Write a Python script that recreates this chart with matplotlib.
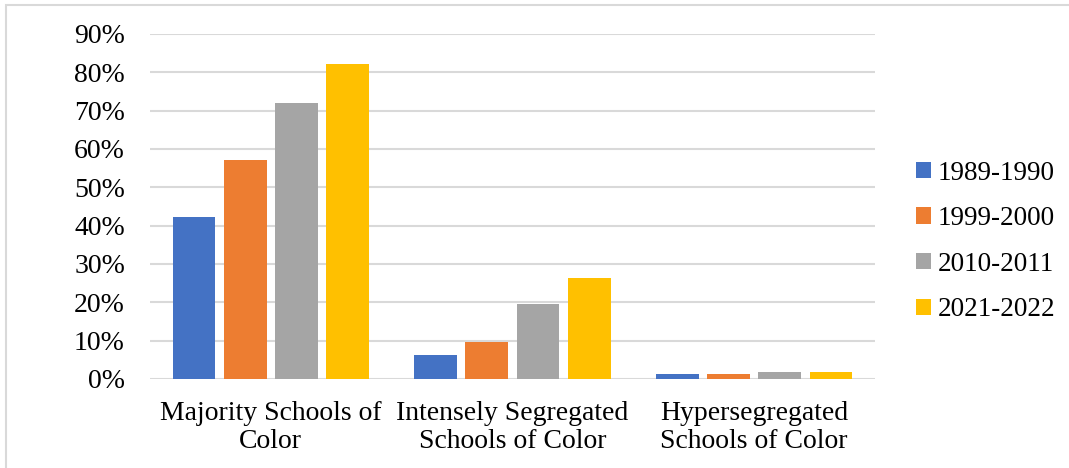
import matplotlib.pyplot as plt
import numpy as np
from matplotlib.patches import Rectangle

categories = ['Majority Schools of\nColor', 'Intensely Segregated\nSchools of Color', 'Hypersegregated\nSchools of Color']
years = ['1989-1990', '1999-2000', '2010-2011', '2021-2022']
v1989 = [0.423, 0.062, 0.014]
v1999 = [0.570, 0.097, 0.014]
v2010 = [0.720, 0.196, 0.0175]
v2021 = [0.821, 0.263, 0.0175]
values = [v1989, v1999, v2010, v2021]
colors = ['#4472C4', '#ED7D31', '#A5A5A5', '#FFC000']

plt.rcParams['font.family'] = ['Liberation Serif', 'DejaVu Serif']

fig = plt.figure(figsize=(10.69, 4.68), dpi=100)
ax = fig.add_axes([0.1403, 0.1902, 0.6782, 0.7372])

x = np.arange(len(categories))
step = 0.212
width = 0.177
for i, (yr, vals) in enumerate(zip(years, values)):
    ax.bar(x + (i - 1.5) * step, vals, width, color=colors[i], label=yr, zorder=3)

ax.set_xlim(-0.5, 2.5)
ax.set_ylim(0, 0.9)
ax.set_yticks(np.arange(0, 0.91, 0.1))
ax.set_yticklabels(['%d%%' % round(t * 100) for t in np.arange(0, 0.91, 0.1)], fontsize=20)
ax.set_xticks(x)
ax.set_xticklabels(categories, fontsize=20, linespacing=1.17)
ax.tick_params(axis='both', length=0)
ax.tick_params(axis='y', pad=18)
ax.tick_params(axis='x', pad=16)
ax.grid(axis='y', color='#d9d9d9', linewidth=1.5, zorder=0)
for s in ax.spines.values():
    s.set_visible(False)

leg = fig.legend(loc='center left', bbox_to_anchor=(0.834, 0.484), frameon=False,
                 fontsize=19.5, handlelength=0.55, handleheight=0.55,
                 handletextpad=0.25, labelspacing=0.76)

# thin outer border
fig.patches.append(Rectangle((6 / 1069, -0.1), 1.2, 1.1 - 5 / 468, transform=fig.transFigure,
                             fill=False, edgecolor='#d9d9d9', linewidth=1.5))

fig.savefig('out.png', dpi=100)
